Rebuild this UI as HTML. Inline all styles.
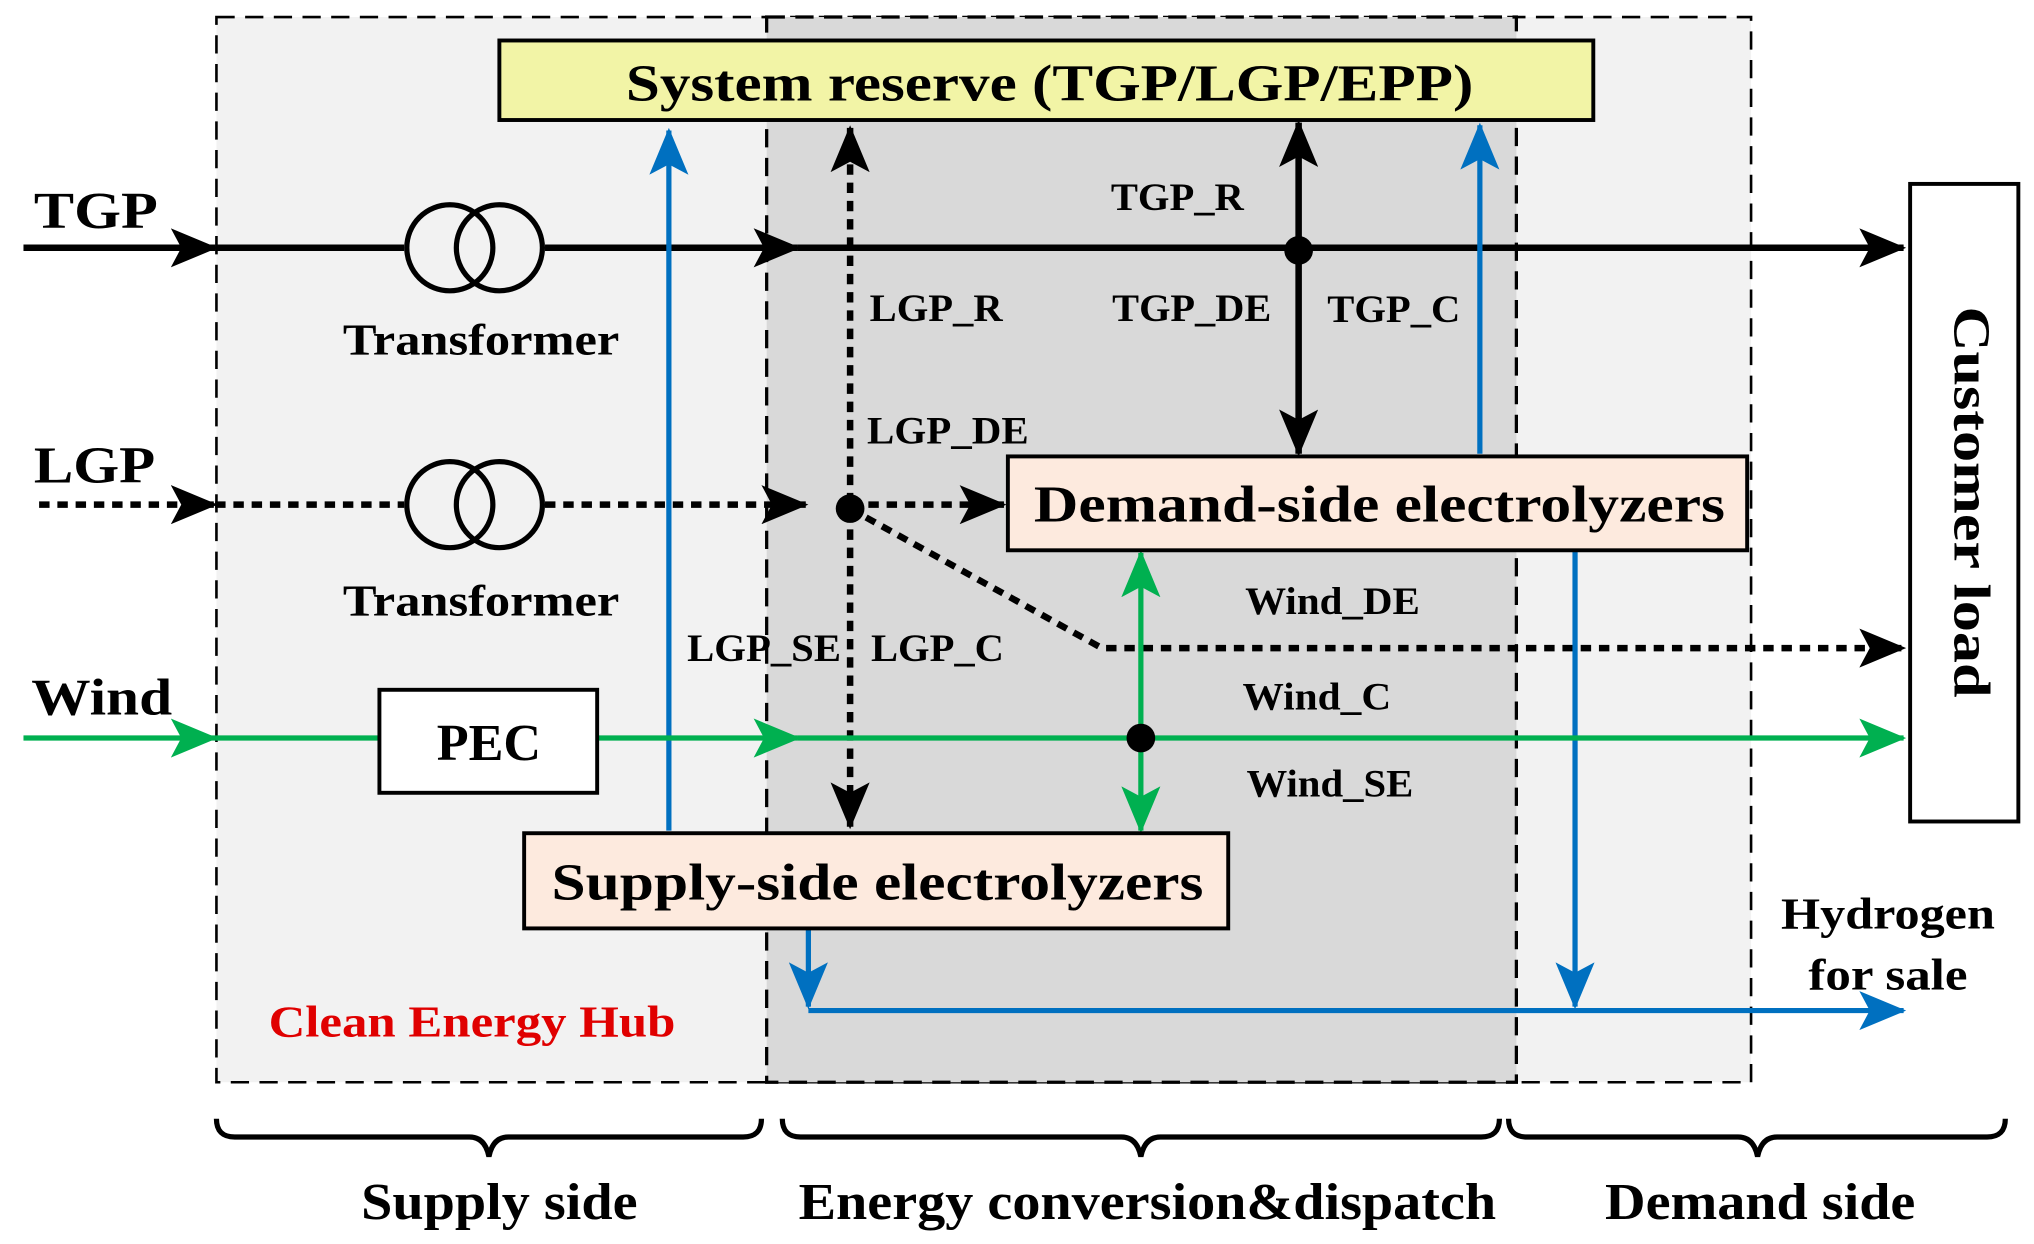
<!DOCTYPE html>
<html><head><meta charset="utf-8"><style>html,body{margin:0;padding:0;background:#fff}svg{display:block}svg text{font-family:"Liberation Serif","Times New Roman",serif;font-weight:bold}</style></head>
<body>
<svg width="2034" height="1244" viewBox="0 0 1560 954" xmlns="http://www.w3.org/2000/svg">
<defs>
<marker id="ak" viewBox="0 0 36 30" refX="34" refY="15" markerWidth="36" markerHeight="30" markerUnits="userSpaceOnUse" orient="auto-start-reverse"><path d="M0,0 L36,15 L0,30 L8,15 Z" fill="#000"/></marker>
<marker id="ag" viewBox="0 0 36 30" refX="34" refY="15" markerWidth="36" markerHeight="30" markerUnits="userSpaceOnUse" orient="auto-start-reverse"><path d="M0,0 L36,15 L0,30 L8,15 Z" fill="#00b050"/></marker>
<marker id="ab" viewBox="0 0 36 30" refX="34" refY="15" markerWidth="36" markerHeight="30" markerUnits="userSpaceOnUse" orient="auto-start-reverse"><path d="M0,0 L36,15 L0,30 L8,15 Z" fill="#0070c0"/></marker>
</defs>
<rect x="166" y="13" width="1177" height="817" fill="#f2f2f2" stroke="#000" stroke-width="2" stroke-dasharray="14,8"/>
<rect x="588" y="13" width="575" height="817" fill="#d9d9d9" stroke="#000" stroke-width="2.5" stroke-dasharray="14,8"/>
<rect x="383" y="31" width="839" height="61" fill="#f2f4a6" stroke="#000" stroke-width="3"/>
<text x="805" y="77" font-size="40" text-anchor="middle" textLength="650" lengthAdjust="spacingAndGlyphs">System reserve (TGP/LGP/EPP)</text>
<!-- TGP line -->
<line x1="18" y1="190" x2="165" y2="190" stroke="#000" stroke-width="5" marker-end="url(#ak)"/>
<line x1="165" y1="190" x2="310" y2="190" stroke="#000" stroke-width="5"/>
<line x1="418" y1="190" x2="612" y2="190" stroke="#000" stroke-width="5" marker-end="url(#ak)"/>
<line x1="612" y1="190" x2="1460" y2="190" stroke="#000" stroke-width="5" marker-end="url(#ak)"/>
<circle cx="345" cy="190" r="33" fill="none" stroke="#000" stroke-width="4"/>
<circle cx="383" cy="190" r="33" fill="none" stroke="#000" stroke-width="4"/>
<!-- LGP line -->
<line x1="30" y1="387" x2="165" y2="387" stroke="#000" stroke-width="5" stroke-dasharray="8,6" marker-end="url(#ak)"/>
<line x1="165" y1="387" x2="310" y2="387" stroke="#000" stroke-width="5" stroke-dasharray="8,6"/>
<line x1="418" y1="387" x2="618" y2="387" stroke="#000" stroke-width="5" stroke-dasharray="8,6" marker-end="url(#ak)"/>
<line x1="652" y1="387" x2="770" y2="387" stroke="#000" stroke-width="5" stroke-dasharray="8,6" marker-end="url(#ak)"/>
<circle cx="345" cy="387" r="33" fill="none" stroke="#000" stroke-width="4"/>
<circle cx="383" cy="387" r="33" fill="none" stroke="#000" stroke-width="4"/>
<polyline points="652,390 845,497 1460,497" fill="none" stroke="#000" stroke-width="5" stroke-dasharray="8,6" marker-end="url(#ak)"/>
<line x1="652" y1="98" x2="652" y2="634" stroke="#000" stroke-width="5" stroke-dasharray="8,6" marker-start="url(#ak)" marker-end="url(#ak)"/>
<circle cx="652" cy="390" r="11"/>
<!-- TGP vertical -->
<line x1="996" y1="94" x2="996" y2="348" stroke="#000" stroke-width="5" marker-start="url(#ak)" marker-end="url(#ak)"/>
<circle cx="996" cy="192" r="11"/>
<!-- Blue -->
<line x1="1135" y1="348" x2="1135" y2="96" stroke="#0070c0" stroke-width="4" marker-end="url(#ab)"/>
<line x1="513" y1="637" x2="513" y2="100" stroke="#0070c0" stroke-width="4" marker-end="url(#ab)"/>
<line x1="620" y1="712" x2="620" y2="772" stroke="#0070c0" stroke-width="4" marker-end="url(#ab)"/>
<line x1="620" y1="775" x2="1460" y2="775" stroke="#0070c0" stroke-width="4" marker-end="url(#ab)"/>
<line x1="1208" y1="422" x2="1208" y2="772" stroke="#0070c0" stroke-width="4" marker-end="url(#ab)"/>
<!-- Wind -->
<line x1="18" y1="566" x2="165" y2="566" stroke="#00b050" stroke-width="4" marker-end="url(#ag)"/>
<line x1="165" y1="566" x2="291" y2="566" stroke="#00b050" stroke-width="4"/>
<line x1="458" y1="566" x2="612" y2="566" stroke="#00b050" stroke-width="4" marker-end="url(#ag)"/>
<line x1="612" y1="566" x2="1460" y2="566" stroke="#00b050" stroke-width="4" marker-end="url(#ag)"/>
<line x1="875" y1="424" x2="875" y2="637" stroke="#00b050" stroke-width="4" marker-start="url(#ag)" marker-end="url(#ag)"/>
<circle cx="875" cy="566" r="11"/>
<rect x="291" y="529" width="167" height="79" fill="#fff" stroke="#000" stroke-width="3"/>
<text x="375" y="583" font-size="40" text-anchor="middle">PEC</text>
<!-- Boxes -->
<rect x="773" y="350" width="567" height="72" fill="#fdeade" stroke="#000" stroke-width="3"/>
<text x="1058" y="400" font-size="40" text-anchor="middle" textLength="530" lengthAdjust="spacingAndGlyphs">Demand-side electrolyzers</text>
<rect x="402" y="639" width="540" height="73" fill="#fdeade" stroke="#000" stroke-width="3"/>
<text x="673" y="690" font-size="40" text-anchor="middle" textLength="500" lengthAdjust="spacingAndGlyphs">Supply-side electrolyzers</text>
<rect x="1465" y="141" width="83" height="489" fill="#fff" stroke="#000" stroke-width="3"/>
<text transform="translate(1499,385) rotate(90)" font-size="40" text-anchor="middle" textLength="300" lengthAdjust="spacingAndGlyphs">Customer load</text>
<!-- Labels -->
<g font-size="40"><text x="26" y="175" textLength="95" lengthAdjust="spacingAndGlyphs">TGP</text><text x="26" y="370" textLength="93" lengthAdjust="spacingAndGlyphs">LGP</text><text x="24" y="548" textLength="108" lengthAdjust="spacingAndGlyphs">Wind</text></g>
<g font-size="34" text-anchor="middle"><text x="369" y="272" textLength="212" lengthAdjust="spacingAndGlyphs">Transformer</text><text x="369" y="472" textLength="212" lengthAdjust="spacingAndGlyphs">Transformer</text></g>
<g font-size="30">
<text x="852" y="161" textLength="102" lengthAdjust="spacingAndGlyphs">TGP_R</text><text x="853" y="246" textLength="122" lengthAdjust="spacingAndGlyphs">TGP_DE</text><text x="1018" y="247" textLength="102" lengthAdjust="spacingAndGlyphs">TGP_C</text>
<text x="667" y="246" textLength="102" lengthAdjust="spacingAndGlyphs">LGP_R</text><text x="665" y="340" textLength="124" lengthAdjust="spacingAndGlyphs">LGP_DE</text>
<text x="527" y="507" textLength="118" lengthAdjust="spacingAndGlyphs">LGP_SE</text><text x="668" y="507" textLength="102" lengthAdjust="spacingAndGlyphs">LGP_C</text>
<text x="955" y="471" textLength="134" lengthAdjust="spacingAndGlyphs">Wind_DE</text><text x="953" y="544" textLength="114" lengthAdjust="spacingAndGlyphs">Wind_C</text><text x="956" y="611" textLength="128" lengthAdjust="spacingAndGlyphs">Wind_SE</text>
</g>
<text x="206" y="795" font-size="34" fill="#e00000" textLength="312" lengthAdjust="spacingAndGlyphs">Clean Energy Hub</text>
<g font-size="34" text-anchor="middle"><text x="1448" y="712" textLength="164" lengthAdjust="spacingAndGlyphs">Hydrogen</text><text x="1448" y="759" textLength="122" lengthAdjust="spacingAndGlyphs">for sale</text></g>
<!-- Braces -->
<g fill="none" stroke="#000" stroke-width="4">
<path d="M166,858 Q166,872 180,872 L360,872 Q372,872 375,887 Q378,872 390,872 L570,872 Q584,872 584,858"/>
<path d="M600,858 Q600,872 614,872 L860,872 Q872,872 875,887 Q878,872 890,872 L1136,872 Q1150,872 1150,858"/>
<path d="M1157,858 Q1157,872 1171,872 L1333,872 Q1345,872 1348,887 Q1351,872 1363,872 L1524,872 Q1538,872 1538,858"/>
</g>
<g font-size="40" text-anchor="middle">
<text x="383" y="935" textLength="212" lengthAdjust="spacingAndGlyphs">Supply side</text>
<text x="880" y="935" textLength="535" lengthAdjust="spacingAndGlyphs">Energy conversion&amp;dispatch</text>
<text x="1350" y="935" textLength="238" lengthAdjust="spacingAndGlyphs">Demand side</text>
</g>
</svg>
</body></html>
